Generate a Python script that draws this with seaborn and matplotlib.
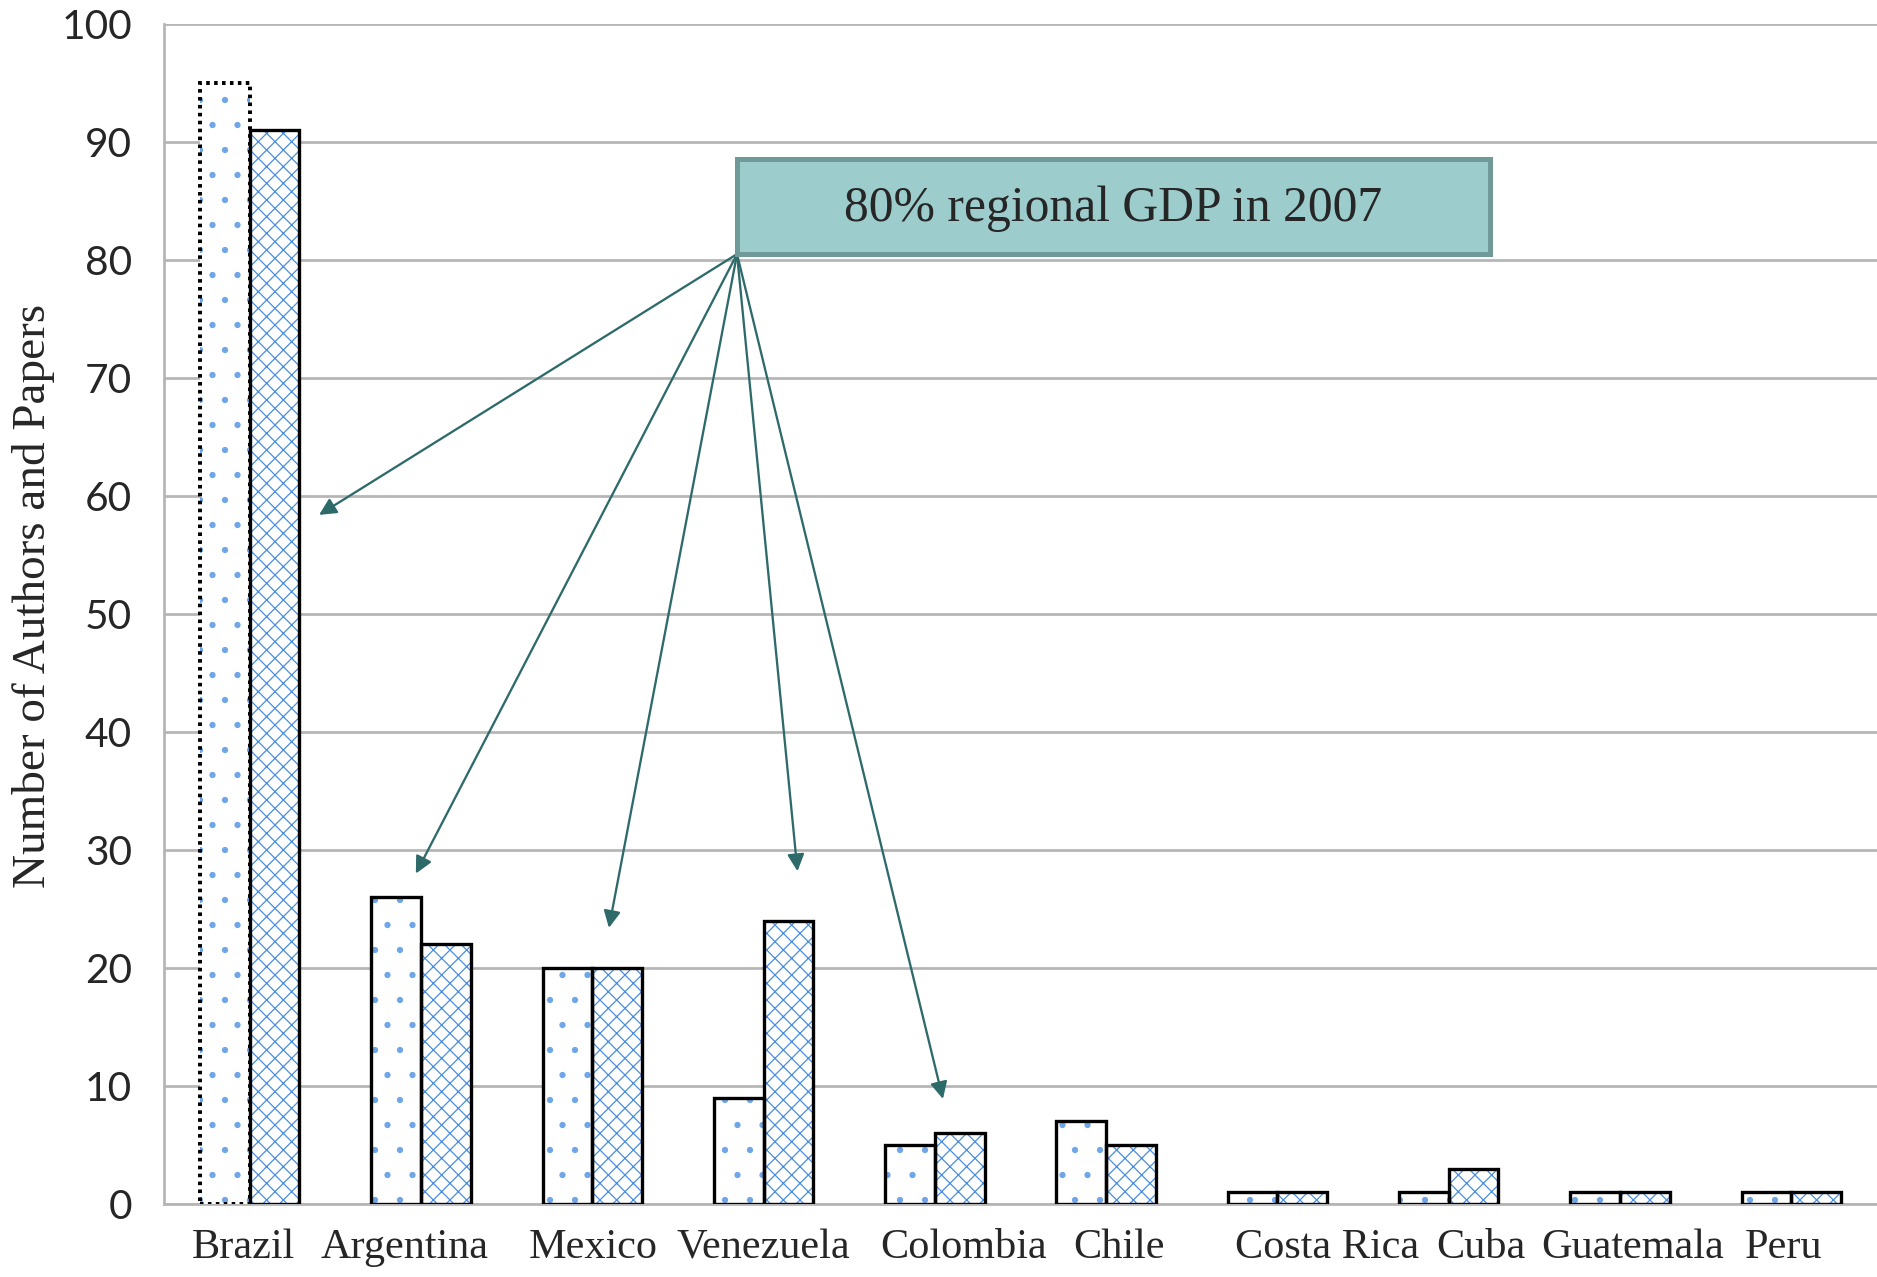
import matplotlib
matplotlib.use("Agg")
import matplotlib.pyplot as plt
from matplotlib.patches import Rectangle
from matplotlib.transforms import ScaledTranslation
import pandas as pd
import seaborn as sns

# ---- data -------------------------------------------------------------
countries = ["Brazil", "Argentina", "Mexico", "Venezuela", "Colombia", "Chile",
             "Costa Rica", "Cuba", "Guatemala", "Peru"]
authors = [95, 26, 20, 9, 5, 7, 1, 1, 1, 1]
papers = [91, 22, 20, 24, 6, 5, 1, 3, 1, 1]
series = ["Authors", "Papers"]
y_ticks = [0, 10, 20, 30, 40, 50, 60, 70, 80, 90, 100]
y_label = "Number of Authors and Papers"
callout_text = "80% regional GDP in 2007"
callout_countries = ["Brazil", "Argentina", "Mexico", "Venezuela", "Colombia"]

# ---- styling ----------------------------------------------------------
DPI = 150
HATCH_BLUE = "#4a8ee0"
DOT_BLUE = "#6fa6e8"
GRID_GREY = "#b5b5b5"
ARROW_TEAL = "#2e6a6a"
BOX_FILL = "#9dcccc"
BOX_EDGE = "#6f9a99"

sns.set_style("white")
plt.rcParams["hatch.color"] = HATCH_BLUE
plt.rcParams["hatch.linewidth"] = 0.6

df = pd.DataFrame({
    "Country": countries * 2,
    "Series": [series[0]] * len(countries) + [series[1]] * len(countries),
    "Count": authors + papers,
})

fig = plt.figure(figsize=(1877 / DPI, 1277 / DPI), dpi=DPI)
ax = fig.add_axes([0.0874, 0.0572, 0.9126, 0.9240])

# hatched fills (no outline); outlines are added on top afterwards
sns.barplot(data=df, x="Country", y="Count", hue="Series",
            order=countries, hue_order=series, width=0.58,
            palette=["white", "white"], edgecolor=HATCH_BLUE, linewidth=0,
            legend=False, errorbar=None, ax=ax, zorder=3)

hatches = [".", "xxx"]
hatch_colors = [DOT_BLUE, HATCH_BLUE]
for container, hatch, hcol in zip(ax.containers, hatches, hatch_colors):
    for i, bar in enumerate(container):
        bar.set_hatch(hatch)
        bar.set_edgecolor(hcol)
        bar.set_linewidth(0)
        # black outline drawn from the same bar geometry
        dotted = (hatch == "." and countries[i] == "Brazil")
        ax.add_patch(Rectangle(bar.get_xy(), bar.get_width(), bar.get_height(),
                               fill=False, edgecolor="black",
                               linewidth=1.9 if dotted else 1.6,
                               linestyle=(0, (0.9, 1.1)) if dotted else "-",
                               joinstyle="miter", zorder=4))

# ---- axes -------------------------------------------------------------
ax.set_xlim(-0.5, len(countries) - 0.5)
ax.set_ylim(0, 100)
ax.set_yticks(y_ticks)
ax.grid(axis="y", color=GRID_GREY, linewidth=1.3, zorder=0)
ax.grid(axis="x", visible=False)
ax.set_axisbelow(True)
for side in ["top", "right"]:
    ax.spines[side].set_visible(False)
for side in ["left", "bottom"]:
    ax.spines[side].set_color(GRID_GREY)
    ax.spines[side].set_linewidth(1.3)

ax.tick_params(axis="y", length=7.5, width=1.0, color=GRID_GREY, pad=8,
               labelsize=19.5)
ax.tick_params(axis="x", length=0, pad=12, labelsize=20.3)
for lab in ax.get_yticklabels():
    lab.set_fontfamily("Lato")

# horizontal nudges (pixels) for the category labels
label_shift_px = [-6, -16, 1, 0, 29, 13, 50, 32, 13, -8]
for lab, dx in zip(ax.get_xticklabels(), label_shift_px):
    lab.set_fontfamily("Liberation Serif")
    lab.set_transform(lab.get_transform()
                      + ScaledTranslation(dx / DPI, 0, fig.dpi_scale_trans))

ax.set_xlabel("")
ax.set_ylabel(y_label, fontsize=22.6, family="Liberation Serif", labelpad=3)
ax.yaxis.label.set_y(0.515)

# ---- callout box with arrows -----------------------------------------
bx0, bx1, by0, by1 = 2.845, 7.24, 80.5, 88.6
ax.add_patch(Rectangle((bx0, by0), bx1 - bx0, by1 - by0, facecolor=BOX_FILL,
                       edgecolor=BOX_EDGE, linewidth=2.4, zorder=6))
ax.text((bx0 + bx1) / 2, (by0 + by1) / 2 - 0.2, callout_text, ha="center",
        va="center", fontsize=23.8, family="Liberation Serif", zorder=7)

arrow_tips = {
    "Brazil": (0.405, 58.4),
    "Argentina": (-0.03, 28.0),
    "Mexico": (0.097, 23.4),
    "Venezuela": (0.198, 28.2),
    "Colombia": (0.047, 8.9),
}
for name in callout_countries:
    dx, ty = arrow_tips[name]
    ax.annotate("", xy=(countries.index(name) + dx, ty), xytext=(bx0, by0),
                arrowprops=dict(arrowstyle="-|>", color=ARROW_TEAL, lw=1.1,
                                mutation_scale=17, shrinkA=0, shrinkB=0),
                zorder=5)

fig.savefig("out.png", dpi=DPI)
